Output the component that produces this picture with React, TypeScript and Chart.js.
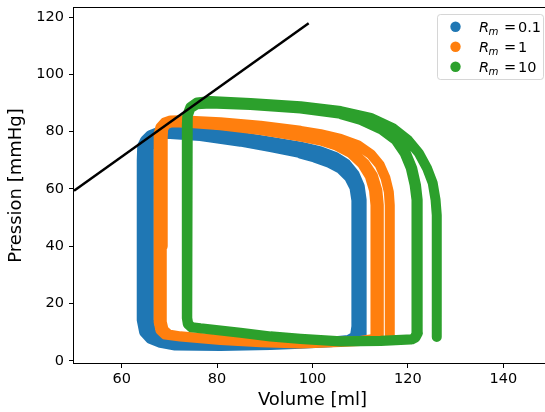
import React, { useEffect, useRef } from "react";
import { Chart, registerables } from "chart.js";

Chart.register(...registerables);

// ---- axis ticks ----
const xTicks = [60, 80, 100, 120, 140];
const yTicks = [0, 20, 40, 60, 80, 100, 120];

// ---- legend ----
const seriesNames = ["0.1", "1", "10"];
const seriesColors = ["#1f77b4", "#ff7f0e", "#2ca02c"];

// ---- R_m = 0.1 (blue) ----
const blueVolume = [
  110.3, 110.3, 109.9, 108.8, 107.1, 104.8, 101.7, 97.5, 91.2, 84.9, 76.5, 70.2, 67.7, 66.0, 64.9, 64.3, 64.2, 64.2, 64.7, 66.0, 68.1, 71.2, 80.7, 91.2, 97.5, 103.8, 107.5, 109.2,
  109.5, 109.5, 109.1, 108.0, 106.2, 103.8, 100.6, 97.5, 91.2, 84.9, 76.5, 70.2, 68.1, 66.5, 65.9, 65.7, 65.7, 66.1, 67.3, 69.2, 72.0, 80.7, 91.2, 97.5, 103.8, 107.5, 108.9,
  109.2, 109.2, 108.8, 107.7, 105.9, 103.5, 100.4, 97.5,
];
const bluePressure = [
  7.3, 56.2, 61.0, 65.2, 68.7, 71.2, 73.1, 74.8, 76.5, 78.2, 79.6, 80.0, 79.9, 78.8, 77.0, 75.0, 70.0, 14.3, 10.1, 7.7, 6.3, 5.4, 5.2, 5.6, 6.0, 6.5, 7.2, 8.5,
  12.0, 56.2, 60.6, 64.2, 67.2, 69.3, 71.2, 72.5, 74.6, 76.5, 78.5, 79.2, 79.2, 78.3, 76.5, 74.0, 14.3, 10.3, 8.0, 6.6, 5.8, 5.6, 5.9, 6.2, 6.7, 7.3, 8.6,
  12.0, 56.0, 60.4, 64.0, 67.0, 69.1, 71.0, 72.3,
];

// ---- R_m = 1 (orange) ----
const orangeVolume = [
  116.2, 116.2, 116.0, 115.3, 114.1, 112.2, 109.5, 105.9, 101.7, 97.5, 89.1, 80.7, 72.3, 70.2, 69.0, 68.1, 67.8, 67.75, 67.75, 68.1, 69.1, 72.3, 80.7, 89.1, 97.5, 105.9, 110.0, 112.5,
  113.2, 113.2, 112.9, 112.0, 110.4, 108.0, 104.8, 101.7, 97.5, 89.1, 80.7, 72.3, 70.2, 69.1, 68.5, 68.4, 68.4, 68.8, 69.8, 72.3, 80.7, 89.1, 97.5, 105.9, 111.0, 113.4,
  113.9, 113.9, 113.6, 112.7, 111.0, 108.6, 105.5, 101.7, 97.5, 89.1, 80.7, 72.3, 70.4, 69.3, 68.7, 68.6, 68.6,
];
const orangePressure = [
  7.7, 54.4, 59.0, 63.8, 68.4, 72.2, 75.3, 77.5, 79.1, 80.3, 82.1, 83.3, 84.0, 83.9, 83.2, 81.5, 79.5, 77.0, 13.6, 10.8, 9.2, 8.5, 7.3, 6.5, 6.1, 6.6, 7.0, 7.6,
  8.4, 54.4, 59.5, 64.5, 68.8, 72.5, 75.3, 76.9, 78.3, 80.6, 82.2, 83.3, 83.2, 82.4, 80.7, 78.0, 13.6, 10.8, 9.3, 8.6, 7.4, 6.6, 6.2, 6.7, 7.1, 7.7,
  8.6, 54.4, 59.5, 64.5, 68.8, 72.5, 75.2, 77.0, 78.4, 80.7, 82.3, 83.4, 83.3, 82.6, 81.0, 78.0, 40.0,
];

// ---- R_m = 10 (green) ----
const greenVolume = [
  126.05, 126.05, 125.8, 125.2, 124.0, 122.3, 120.0, 116.8, 112.2, 105.9, 97.5, 87.0, 78.6, 75.8, 74.4, 73.75, 73.65, 73.65, 73.85, 74.6, 76.5, 84.9, 91.2, 97.5, 105.9, 114.3, 120.6, 121.4,
  121.85, 121.85, 121.75, 121.4, 120.6, 119.3, 117.4, 114.3, 110.1, 105.9, 97.5, 87.0, 78.6, 75.8, 74.4, 73.85, 73.75, 73.75, 73.95, 74.7, 76.5, 84.9, 91.2, 97.5, 105.9, 114.3, 120.9, 121.6,
  122.1, 122.1, 122.0, 121.7, 120.9, 119.6, 117.6, 114.5, 110.3, 105.9,
];
const greenPressure = [
  8.4, 50.9, 56.2, 62.1, 67.3, 72.5, 77.1, 81.3, 84.8, 87.2, 88.9, 90.0, 90.7, 90.2, 88.6, 85.8, 82.3, 15.0, 12.9, 11.75, 11.4, 9.8, 8.55, 7.7, 6.8, 7.0, 7.5, 8.0,
  9.8, 50.9, 56.2, 61.4, 67.3, 72.5, 77.1, 80.9, 84.1, 86.2, 88.1, 89.3, 89.8, 89.6, 88.2, 85.5, 82.0, 15.0, 12.9, 11.8, 11.4, 9.9, 8.6, 7.8, 6.9, 7.1, 7.6, 8.2,
  9.8, 50.9, 56.2, 61.4, 67.3, 72.5, 77.0, 80.8, 84.0, 86.1,
];

// ---- straight line ----
const lineVolume = [50, 99.2];
const linePressure = [59.4, 117.8];

const FONT = "DejaVu Sans";

function zip(xs: number[], ys: number[]) {
  return xs.map((x, i) => ({ x, y: ys[i] }));
}

const framePlugin = {
  id: "mplFrame",
  afterDraw(chart: any) {
    const { ctx, chartArea } = chart;
    const { left, right, top, bottom } = chartArea;
    ctx.save();
    ctx.strokeStyle = "#000";
    ctx.lineWidth = 1;
    ctx.strokeRect(Math.round(left) - 0.5, Math.round(top) - 0.5, Math.round(right - left) + 1, Math.round(bottom - top) + 1);

    // legend
    const bx = chartArea.right - 113.5;
    const by = chartArea.top + 6.5;
    const bw = 106;
    const bh = 65;
    ctx.beginPath();
    (ctx as any).roundRect(bx, by, bw, bh, 3);
    ctx.fillStyle = "rgba(255,255,255,0.8)";
    ctx.fill();
    ctx.strokeStyle = "rgba(204,204,204,0.8)";
    ctx.lineWidth = 1;
    ctx.stroke();

    seriesNames.forEach((name, i) => {
      const cy = by + 12.2 + i * 20;
      ctx.beginPath();
      ctx.arc(bx + 18, cy, 5.2, 0, Math.PI * 2);
      ctx.fillStyle = seriesColors[i];
      ctx.fill();
      const base = cy + 5.3;
      let tx = bx + 41.5;
      ctx.fillStyle = "#000";
      ctx.textBaseline = "alphabetic";
      ctx.textAlign = "left";
      ctx.font = `italic 14.5px "${FONT}"`;
      ctx.fillText("R", tx, base);
      tx += ctx.measureText("R").width - 0.5;
      ctx.font = `italic 10.2px "${FONT}"`;
      ctx.fillText("m", tx, base + 3);
      ctx.font = `14.5px "${FONT}"`;
      ctx.fillText("=", bx + 66.5, base);
      ctx.fillText(name, bx + 80.5, base);
    });
    ctx.restore();
  },
};

export default function App() {
  const ref = useRef<HTMLCanvasElement | null>(null);

  useEffect(() => {
    const canvas = ref.current!;
    canvas.width = 552;
    canvas.height = 412;
    const loopStyle = {
      showLine: true,
      borderWidth: 10,
      pointRadius: 0,
      borderJoinStyle: "round" as const,
      borderCapStyle: "round" as const,
      tension: 0,
    };
    const chart = new Chart(canvas, {
      type: "scatter",
      data: {
        datasets: [
          {
            label: "line",
            data: zip(lineVolume, linePressure),
            showLine: true,
            borderColor: "#000",
            backgroundColor: "#000",
            borderWidth: 2.5,
            pointRadius: 0,
            order: 0,
          },
          {
            label: "R_m = 10",
            data: zip(greenVolume, greenPressure),
            borderColor: seriesColors[2],
            backgroundColor: seriesColors[2],
            order: 1,
            ...loopStyle,
          },
          {
            label: "R_m = 1",
            data: zip(orangeVolume, orangePressure),
            borderColor: seriesColors[1],
            backgroundColor: seriesColors[1],
            order: 2,
            ...loopStyle,
          },
          {
            label: "R_m = 0.1",
            data: zip(blueVolume, bluePressure),
            borderColor: seriesColors[0],
            backgroundColor: seriesColors[0],
            order: 3,
            ...loopStyle,
          },
        ],
      },
      options: {
        responsive: false,
        animation: false,
        devicePixelRatio: 1,
        layout: { padding: { top: 8, right: 1, left: 0, bottom: 0 } },
        plugins: { legend: { display: false }, tooltip: { enabled: false } },
        scales: {
          x: {
            type: "linear",
            min: 50,
            max: 150,
            afterBuildTicks: (axis: any) => {
              axis.ticks = xTicks.map((v) => ({ value: v }));
            },
            afterFit: (axis: any) => {
              axis.height = 49;
              axis.paddingLeft = 0;
              axis.paddingRight = 0;
            },
            ticks: {
              autoSkip: false,
              maxRotation: 0,
              padding: 3,
              color: "#000",
              font: { family: FONT, size: 14.5 },
            },
            grid: {
              display: true,
              drawOnChartArea: false,
              drawTicks: true,
              tickLength: 5,
              tickColor: "#000",
              tickWidth: 1,
            },
            border: { display: false },
            title: {
              display: true,
              text: "Volume [ml]",
              color: "#000",
              font: { family: FONT, size: 18, lineHeight: 1.2 },
              padding: { top: 0, bottom: 1 },
            },
          },
          y: {
            type: "linear",
            min: -0.7,
            max: 123.14,
            afterBuildTicks: (axis: any) => {
              axis.ticks = yTicks.map((v) => ({ value: v }));
            },
            afterFit: (axis: any) => {
              axis.width = 74;
              axis.paddingTop = 0;
              axis.paddingBottom = 0;
            },
            ticks: {
              autoSkip: false,
              padding: 5,
              color: "#000",
              font: { family: FONT, size: 14.5 },
            },
            grid: {
              display: true,
              drawOnChartArea: false,
              drawTicks: true,
              tickLength: 5,
              tickColor: "#000",
              tickWidth: 1,
            },
            border: { display: false },
            title: {
              display: true,
              text: "Pression [mmHg]",
              color: "#000",
              font: { family: FONT, size: 18, lineHeight: 1.2 },
              padding: { top: 6, bottom: 0 },
            },
          },
        },
      },
      plugins: [framePlugin],
    });
    return () => chart.destroy();
  }, []);

  return (
    <div
      style={{
        position: "fixed",
        left: 0,
        top: 0,
        width: 545,
        height: 412,
        overflow: "hidden",
        background: "#fff",
      }}
    >
      <canvas ref={ref} width={552} height={412} style={{ display: "block", width: 552, height: 412 }} />
    </div>
  );
}
